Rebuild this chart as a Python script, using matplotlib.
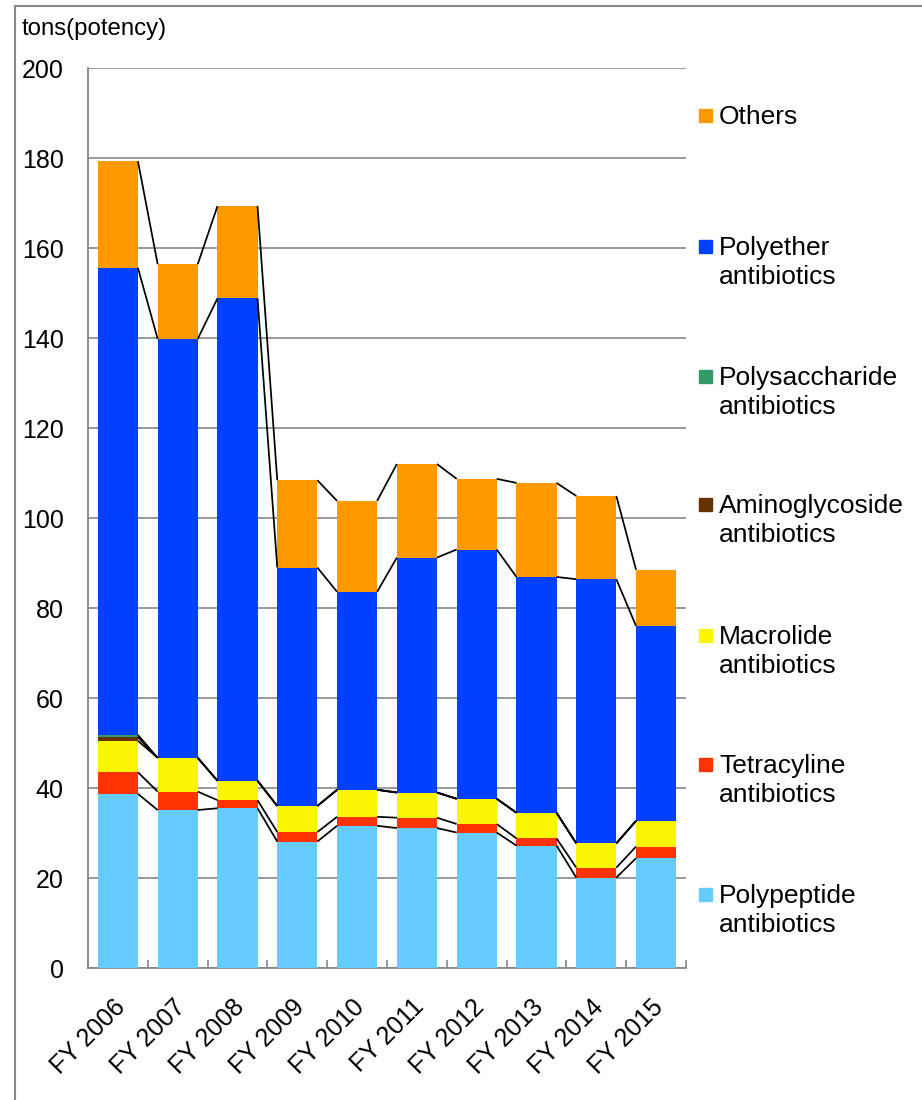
import matplotlib
matplotlib.use("Agg")
import matplotlib.pyplot as plt
import numpy as np
from matplotlib.lines import Line2D
from matplotlib.patches import Rectangle
from matplotlib.transforms import ScaledTranslation

plt.rcParams['font.family'] = ['Liberation Sans', 'DejaVu Sans']

years = ["FY 2006", "FY 2007", "FY 2008", "FY 2009", "FY 2010",
         "FY 2011", "FY 2012", "FY 2013", "FY 2014", "FY 2015"]

polypeptide = [38.7, 35.1, 35.5, 28.1, 31.6, 31.1, 30.1, 27.2, 20.1, 24.4]
tetracycline = [4.8, 4.1, 1.8, 2.1, 2.0, 2.3, 1.9, 1.6, 2.2, 2.6]
macrolide = [7.0, 7.5, 4.3, 5.8, 6.0, 5.6, 5.6, 5.7, 5.4, 5.7]
aminoglycoside = [0.8, 0, 0, 0, 0, 0, 0, 0, 0, 0]
polysaccharide = [0.5, 0, 0, 0, 0, 0, 0, 0, 0, 0]
polyether = [103.8, 93.1, 107.2, 53.0, 44.0, 52.2, 55.4, 52.4, 58.7, 43.3]
others = [23.7, 16.6, 20.5, 19.4, 20.2, 20.8, 15.7, 20.9, 18.5, 12.5]

series = [polypeptide, tetracycline, macrolide, aminoglycoside,
          polysaccharide, polyether, others]
labels = ["Polypeptide\nantibiotics", "Tetracyline\nantibiotics",
          "Macrolide\nantibiotics", "Aminoglycoside\nantibiotics",
          "Polysaccharide\nantibiotics", "Polyether\nantibiotics", "Others"]
colors = ["#66CCFF", "#FF3300", "#FAF500", "#663300", "#339966",
          "#0040FF", "#FF9900"]

fig = plt.figure(figsize=(9.22, 11), dpi=100)
ax = fig.add_axes([88/922, 1-968/1100, (686-88)/922, 900/1100])

x = np.arange(len(years))
w = 0.67
bottom = np.zeros(len(years))
tops = []
for vals, c in zip(series, colors):
    v = np.array(vals, dtype=float)
    ax.bar(x, v, w, bottom=bottom, color=c, edgecolor='none', zorder=3)
    bottom = bottom + v
    tops.append(bottom.copy())

# series lines
for cum in tops:
    for i in range(len(x) - 1):
        ax.plot([x[i] + w/2, x[i+1] - w/2], [cum[i], cum[i+1]],
                color='black', lw=1.25, zorder=4, solid_capstyle='butt')

ax.set_xlim(-0.5, len(x) - 0.5)
ax.set_ylim(0, 200)
ax.set_yticks(np.arange(0, 201, 20))
ax.grid(axis='y', color='#888888', lw=1.2, zorder=0)
ax.set_axisbelow(True)
for s in ['top', 'right']:
    ax.spines[s].set_visible(False)
for s in ['left', 'bottom']:
    ax.spines[s].set_color('#888888')
    ax.spines[s].set_linewidth(1.3)
ax.tick_params(axis='y', length=0, pad=17.5, labelsize=18)
ax.set_xticks(x)
ax.set_xticklabels(years, rotation=45, ha='right', rotation_mode='anchor',
                   fontsize=18)
ax.tick_params(axis='x', which='major', length=0, pad=12)
offset = ScaledTranslation(-0.05, -0.10, fig.dpi_scale_trans)
for lbl in ax.get_xticklabels():
    lbl.set_transform(lbl.get_transform() + offset)
ax.set_xticks(np.arange(-0.5, len(x), 1.0), minor=True)
ax.tick_params(axis='x', which='minor', direction='in', length=6,
               color='#888888', width=1.2)

fig.text(22/922, 1-29/1100, "tons(potency)", fontsize=17.3, va='center',
         ha='left')

# legend (manual layout)
first_line_centers = [893, 763, 634, 503, 375, 245, 114]
for lab, c, yc in zip(labels, colors, first_line_centers):
    fig.add_artist(Rectangle((699/922, 1-(yc+8)/1100), 13/922, 13/1100,
                             transform=fig.transFigure, color=c))
    fig.text(719/922, 1-(yc-9.5)/1100, lab, fontsize=19, va='top',
             ha='left', linespacing=1.3)

# outer frame
fig.add_artist(Line2D([15/922, 15/922], [0, 1-6/1100], color='#888888',
                      lw=1.5, transform=fig.transFigure))
fig.add_artist(Line2D([15/922, 1], [1-6/1100, 1-6/1100], color='#888888',
                      lw=1.5, transform=fig.transFigure))

fig.savefig("out.png", dpi=100)
